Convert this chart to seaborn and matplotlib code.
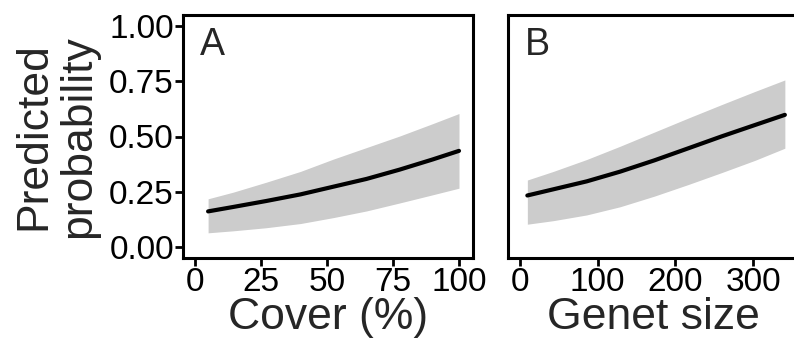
import matplotlib
matplotlib.use("Agg")
import matplotlib.pyplot as plt
import seaborn as sns
import pandas as pd

# Panel A: predicted probability against cover (%)
cover_x = [5, 14.5, 27, 40, 52.5, 65, 77.5, 90, 100]
cover_fit = [0.161, 0.181, 0.208, 0.238, 0.273, 0.308, 0.350, 0.396, 0.435]
cover_lo = [0.064, 0.073, 0.087, 0.106, 0.133, 0.163, 0.199, 0.236, 0.266]
cover_hi = [0.218, 0.248, 0.293, 0.342, 0.398, 0.450, 0.502, 0.558, 0.604]

# Panel B: predicted probability against genet size
genet_x = [9.5, 43, 86, 129, 173, 217, 260, 302.5, 341]
genet_fit = [0.233, 0.261, 0.297, 0.341, 0.392, 0.447, 0.501, 0.552, 0.598]
genet_lo = [0.103, 0.119, 0.145, 0.182, 0.230, 0.283, 0.337, 0.392, 0.447]
genet_hi = [0.303, 0.342, 0.396, 0.456, 0.520, 0.584, 0.645, 0.704, 0.756]

y_ticks = [0.00, 0.25, 0.50, 0.75, 1.00]
y_tick_labels = ["0.00", "0.25", "0.50", "0.75", "1.00"]
cover_ticks = [0, 25, 50, 75, 100]
genet_ticks = [0, 100, 200, 300]

sns.set_style("ticks")
plt.rcParams["font.family"] = ["Liberation Sans", "DejaVu Sans"]

fig = plt.figure(figsize=(7.94, 3.45), dpi=100)
W, H = 794, 345


def px_axes(left, top, right, bottom):
    return fig.add_axes([left / W, 1 - bottom / H, (right - left) / W, (bottom - top) / H])


ax_a = px_axes(183, 15, 473, 258)
ax_b = px_axes(508, 15, 798, 258)

band_color = "#cccccc"


def draw_panel(ax, x, fit, lo, hi, xlim, xticks, xlabel, letter):
    df = pd.DataFrame({"x": x, "fit": fit})
    ax.fill_between(x, lo, hi, color=band_color, lw=0, zorder=1)
    sns.lineplot(data=df, x="x", y="fit", ax=ax, color="black", lw=3.0, zorder=3)
    ax.set_xlim(*xlim)
    ax.set_ylim(-0.05, 1.05)
    ax.set_xticks(xticks)
    ax.set_xticklabels([str(t) for t in xticks])
    ax.set_xlabel(xlabel, fontsize=32, labelpad=-1)
    ax.text(0.058, 0.95, letter, transform=ax.transAxes, fontsize=27, va="top", ha="left")
    for s in ax.spines.values():
        s.set_visible(True)
        s.set_linewidth(2.2)
        s.set_color("black")
    ax.tick_params(axis="both", length=5.5, width=2.0, color="black",
                   labelsize=24, labelcolor="black", pad=1)


draw_panel(ax_a, cover_x, cover_fit, cover_lo, cover_hi, (-4.5, 105.3),
           cover_ticks, "Cover (%)", "A")
draw_panel(ax_b, genet_x, genet_fit, genet_lo, genet_hi, (-15.4, 357.9),
           genet_ticks, "Genet size", "B")

ax_a.set_yticks(y_ticks)
ax_a.set_yticklabels(y_tick_labels)
ax_a.set_ylabel("Predicted\nprobability", fontsize=32, linespacing=1.1, labelpad=7.5)

ax_b.set_yticks([])
ax_b.set_ylabel("")

fig.savefig("out.png", dpi=100)
